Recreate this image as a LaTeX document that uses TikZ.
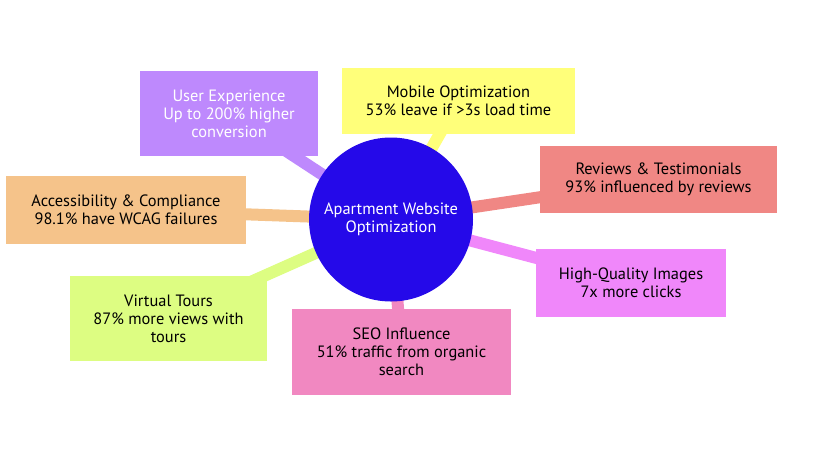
\documentclass[tikz,border=0pt]{standalone}
\usepackage{fontspec}
\setmainfont{PT Sans}
\usetikzlibrary{backgrounds}
\definecolor{hubblue}{HTML}{2509E9}
\definecolor{uxpurple}{HTML}{BE89FD}
\definecolor{mobyellow}{HTML}{FFFF7A}
\definecolor{revred}{HTML}{F08784}
\definecolor{accorange}{HTML}{F5C38A}
\definecolor{vtgreen}{HTML}{DDFD82}
\definecolor{seopink}{HTML}{F188C1}
\definecolor{imgmagenta}{HTML}{F087FA}
\begin{document}
\begin{tikzpicture}[x=0.75pt,y=-0.75pt]
\tikzset{topic/.style={rectangle, align=center, inner sep=2pt, text=black,
    font=\fontsize{12.3}{13.5}\selectfont},
  link/.style={line width=9pt}}
\useasboundingbox (0,0) rectangle (815,451);
% the hub
\node[circle, fill=hubblue, minimum size=123pt, inner sep=0pt, align=center, text=white,
  font=\fontsize{12.3}{13.5}\selectfont] (hub) at (391,219.5) {Apartment Website\\Optimization};
% the topics -- top row
\node[topic, fill=uxpurple, text=white, minimum width=133.5pt, minimum height=63.75pt] (ux) at (229,113.5)
  {User Experience\\Up to 200\% higher\\conversion};
\node[topic, fill=mobyellow, minimum width=174.75pt, minimum height=49.5pt] (mob) at (458.5,101)
  {Mobile Optimization\\53\% leave if >3s load time};
\node[topic, fill=revred, minimum width=177.75pt, minimum height=50.25pt] (rev) at (658.5,179.5)
  {Reviews \& Testimonials\\93\% influenced by reviews};
% the topics -- left side
\node[topic, fill=accorange, minimum width=180pt, minimum height=51pt] (acc) at (126,210)
  {Accessibility \& Compliance\\98.1\% have WCAG failures};
\node[topic, fill=vtgreen, minimum width=147.75pt, minimum height=63.75pt] (vt) at (168.5,318.5)
  {Virtual Tours\\87\% more views with\\tours};
% the topics -- bottom and right
\node[topic, fill=seopink, minimum width=164.25pt, minimum height=64.5pt] (seo) at (401.5,352)
  {SEO Influence\\51\% traffic from organic\\search};
\node[topic, fill=imgmagenta, minimum width=142.5pt, minimum height=51pt] (img) at (631,283)
  {High-Quality Images\\7x more clicks};
% links, behind everything
\begin{scope}[on background layer]
\foreach \t/\c in {ux/uxpurple, mob/mobyellow, rev/revred, acc/accorange,
    vt/vtgreen, seo/seopink, img/imgmagenta} {
  \draw[link, \c] (hub.center) -- (\t.center);
}
\end{scope}
\end{tikzpicture}
\end{document}
